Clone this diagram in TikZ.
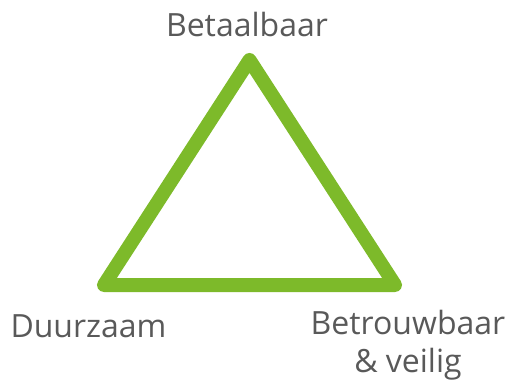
\documentclass[tikz,border=0pt]{standalone}
\usepackage{fontspec}
\setmainfont{Open Sans}
\definecolor{tgreen}{RGB}{125,186,42}
\definecolor{tgrey}{RGB}{89,89,89}
\begin{document}
\begin{tikzpicture}[x=1pt,y=-1pt,
  lbl/.style={text=tgrey,font=\fontsize{32}{38}\selectfont,inner sep=0pt,anchor=base,align=center},
  edge/.style={draw=tgreen,line width=14pt,line join=round}]
\useasboundingbox (0,0) rectangle (511,385);
\coordinate (top) at (249.5,60);
\coordinate (bl) at (104,285);
\coordinate (br) at (395,285);
\draw[edge] (top) -- (bl) -- (br) -- cycle;
\node[lbl] (betaal) at (247,37) {Betaalbaar};
\node[lbl] (duur) at (88.5,337) {Duurzaam};
\node[lbl,anchor=base] (betrouw) at (408,334) {Betrouwbaar};
\node[lbl] (veilig) at (408,372) {\& veilig};
\end{tikzpicture}
\end{document}
